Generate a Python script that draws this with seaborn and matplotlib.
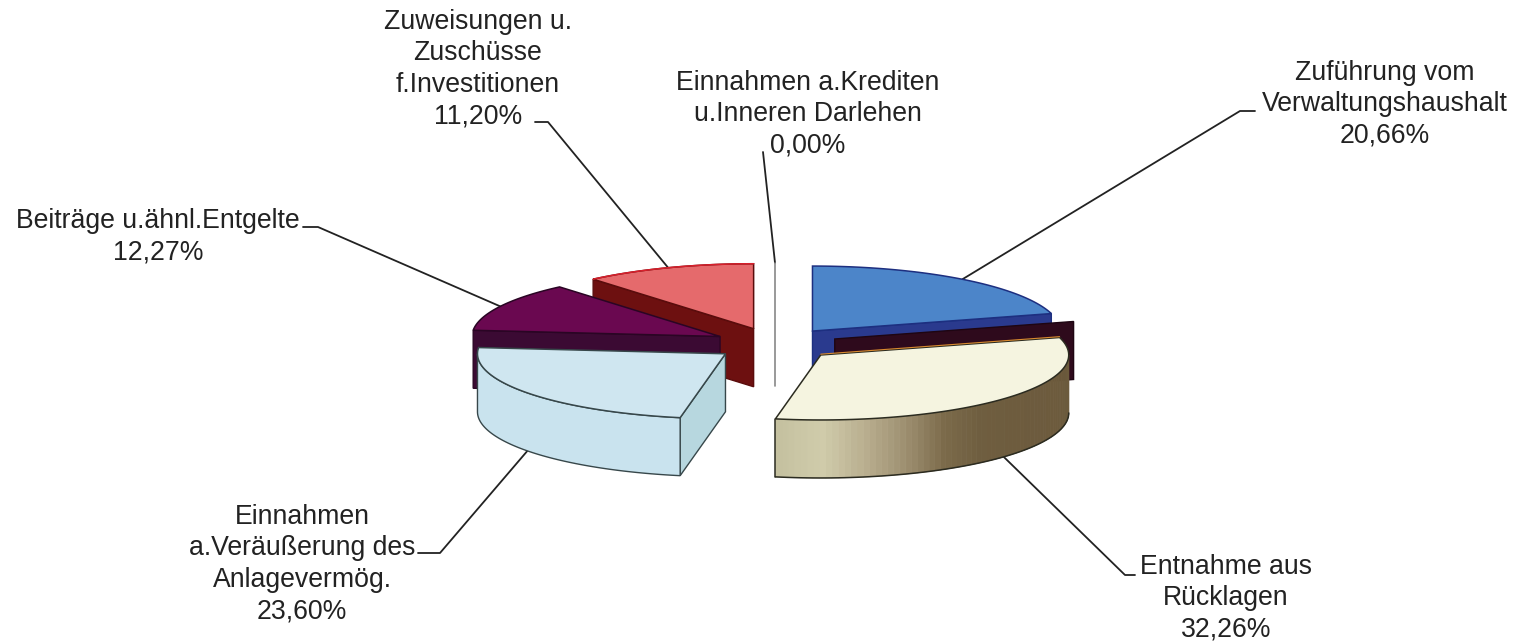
import numpy as np
import matplotlib
matplotlib.use("Agg")
import matplotlib.pyplot as plt
from matplotlib.patches import Polygon
import seaborn as sns

# Data
categories = ["Zuführung vom\nVerwaltungshaushalt", "Entnahme aus\nRücklagen",
              "Einnahmen\na.Veräußerung des\nAnlagevermög.", "Beiträge u.ähnl.Entgelte",
              "Zuweisungen u.\nZuschüsse\nf.Investitionen", "Einnahmen a.Krediten\nu.Inneren Darlehen"]
shares = [20.66, 32.26, 23.60, 12.27, 11.20, 0.00]

sns.set_theme(style="white")
plt.rcParams["font.family"] = ["Liberation Sans", "DejaVu Sans"]

# Pie geometry in image pixels
CX, CY = 775, 344
RX, RY = 248, 65
DEPTH = 58
EXPLODE = 0.25

top_colors = ["#4c85c9", "#f5f4e0", "#cfe6f0", "#6a0850", "#e56a6c", "#888888"]
wall_colors = ["#2a3a8e", None, "#b7d7df", "#3b0a33", "#6d1010", "#888888"]
edge_colors = ["#1d2f80", "#2b2b20", "#37474a", "#2a0524", "#5a0c0c", "#777777"]
label_pos = [(1385, 104), (1226, 598), (302, 564), (158, 237), (478, 69), (808, 114)]
elbows = [((1240, 111), (1255, 111)), ((1125, 575), (1135, 575)), ((440, 553), (418, 553)),
          ((318, 227), (303, 227)), ((548, 122), (535, 122)), ((763, 152), (763, 152))]

fractions = np.array(shares) / sum(shares)
ends = np.cumsum(fractions) * 360
starts = ends - fractions * 360
mids = (starts + ends) / 2


def apex(i):
    t = np.radians(mids[i])
    return np.array([CX + EXPLODE * RX * np.sin(t), CY - EXPLODE * RY * np.cos(t)])


def rim(i, angles):
    t = np.radians(angles)
    a = apex(i)
    return np.column_stack([a[0] + RX * np.sin(t), a[1] - RY * np.cos(t)])


def draw_top(ax, i):
    arc = rim(i, np.linspace(starts[i], ends[i], 80))
    pts = np.vstack([apex(i), arc])
    ax.add_patch(Polygon(pts, closed=True, fc=top_colors[i], ec=edge_colors[i], lw=1.1, joinstyle="miter"))
    return arc


def draw_radial_wall(ax, i, angle, fc=None, ec=None, shift=(0, 0)):
    a = apex(i) + shift
    r = rim(i, np.array([angle]))[0] + shift
    pts = [a, r, r + (0, DEPTH), a + (0, DEPTH)]
    ax.add_patch(Polygon(pts, closed=True, fc=fc or wall_colors[i], ec=ec or edge_colors[i], lw=1.0, joinstyle="miter"))


fig = plt.figure(figsize=(15.15, 6.42), dpi=100)
ax = fig.add_axes([0, 0, 1, 1])
ax.set_xlim(0, 1515)
ax.set_ylim(642, 0)
ax.axis("off")

# back to front
draw_radial_wall(ax, 0, ends[0])
draw_top(ax, 0)
draw_radial_wall(ax, 4, starts[4])
red_arc = draw_top(ax, 4)
ax.plot(red_arc[:, 0], red_arc[:, 1], color="#d8202c", lw=1.1)

# empty slice is only a thin line
zero_top = rim(5, np.array([starts[5]]))[0]
ax.plot([zero_top[0]] * 2, [zero_top[1], apex(5)[1] + DEPTH], color=top_colors[5], lw=1.2)

draw_radial_wall(ax, 3, starts[3])
draw_top(ax, 3)

# cream slice: dark back wall sits offset from the top, outer wall has a gradient
draw_radial_wall(ax, 1, starts[1], fc="#2e0a1c", ec="#1e0512", shift=(14, -16))
wall_angles = np.linspace(90, ends[1], 70)
wall_rim = rim(1, wall_angles)
shades = sns.blend_palette(["#6b5a3c", "#6b5a3c", "#6d5b3d", "#6d5b3e", "#6e5c3e", "#6f5e40",
                            "#7b6a4a", "#9d8f70", "#b9ae8f", "#d0ccab", "#c5c1a0"],
                           n_colors=len(wall_angles) - 1)
for k, col in enumerate(shades):
    p, q = wall_rim[k], wall_rim[k + 1]
    ax.add_patch(Polygon([p, q, q + (0, DEPTH), p + (0, DEPTH)], closed=True, fc=col, ec=col, lw=0.6))
ax.plot(wall_rim[:, 0], wall_rim[:, 1] + DEPTH, color="#2b2b20", lw=1.1)
ax.plot([wall_rim[-1, 0]] * 2, [wall_rim[-1, 1], wall_rim[-1, 1] + DEPTH], color="#2b2b20", lw=1.1)
draw_top(ax, 1)
back_edge = np.vstack([apex(1), rim(1, np.array([starts[1]]))[0]])
ax.plot(back_edge[:, 0], back_edge[:, 1] - 0.8, color="#d98a30", lw=0.8)

# light blue slice
draw_radial_wall(ax, 2, starts[2])
arc2 = rim(2, np.linspace(starts[2], 270, 70))
ax.add_patch(Polygon(np.vstack([arc2, arc2[::-1] + (0, DEPTH)]), closed=True, fc="#c9e3ee", ec="#37474a", lw=1.0))
draw_top(ax, 2)

# labels and leader lines
for i, (name, share) in enumerate(zip(categories, shares)):
    text = name + "\n" + f"{share:.2f}".replace(".", ",") + "%"
    ax.text(label_pos[i][0], label_pos[i][1], text, ha="center", va="center", fontsize=19.2,
            color="#222222", linespacing=1.27)
    anchor = rim(i, np.array([mids[i]]))[0]
    if mids[i] > 90 and mids[i] < 270:
        anchor = anchor + (0, DEPTH)
    p1, p2 = elbows[i]
    ax.plot([anchor[0], p1[0], p2[0]], [anchor[1], p1[1], p2[1]], color="#222222", lw=1.3, zorder=0.5)

fig.savefig("out.png", dpi=100)
